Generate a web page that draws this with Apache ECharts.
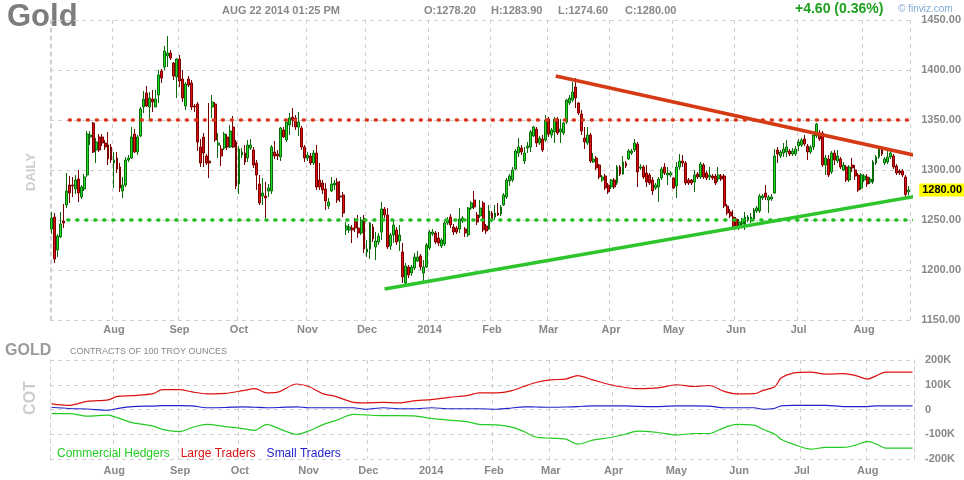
<!DOCTYPE html>
<html>
<head>
<meta charset="utf-8">
<script src="https://cdn.jsdelivr.net/npm/echarts@6/dist/echarts.min.js"></script>
<style>
  html, body { margin: 0; padding: 0; background: #fff; }
  #chart { width: 964px; height: 480px; }
</style>
</head>
<body>
<div id="chart"></div>
<script>
// --- data ---
var firstDay = '2013-07-02';
var lastDay = '2014-08-22';
var holidays = ['2013-07-04', '2013-09-02', '2013-11-28', '2013-12-25', '2014-01-01',
  '2014-01-20', '2014-02-17', '2014-04-18', '2014-05-26', '2014-07-04'];
var monthNames = ['Jan','Feb','Mar','Apr','May','Jun','Jul','Aug','Sep','Oct','Nov','Dec'];

// daily candles: [open, close, low, high]
var ohlc = [
  [1241,1252,1236,1258],[1253,1211,1207,1257],[1220,1234,1213,1236],[1233,1246,1232,1258],[1249,1247,1242,1266],
  [1265,1279,1262,1297],[1285,1277,1267,1294],[1285,1284,1273,1293],[1281,1290,1276,1295],[1291,1277,1268,1300],
  [1273,1283,1271,1285],[1281,1293,1279,1296],[1295,1336,1293,1339],[1333,1335,1325,1339],[1347,1318,1317,1348],
  [1320,1328,1307,1332],[1333,1320,1318,1336],[1333,1327,1324,1336],[1327,1323,1320,1330],[1325,1311,1305,1338],
  [1323,1310,1307,1326],[1307,1310,1282,1318],[1312,1301,1297,1318],[1303,1282,1278,1307],[1279,1285,1272,1293],
  [1285,1310,1283,1313],[1310,1312,1308,1315],[1312,1333,1311,1343],[1336,1318,1317,1341],[1318,1333,1315,1335],
  [1334,1361,1333,1363],[1363,1371,1357,1379],[1377,1364,1363,1384],[1363,1372,1350,1378],[1371,1368,1358,1380],
  [1363,1371,1363,1380],[1375,1395,1367,1400],[1399,1392,1387,1401],[1403,1419,1400,1424],[1414,1417,1403,1434],
  [1417,1412,1410,1420],[1407,1394,1390,1408],[1393,1411,1372,1412],[1411,1389,1383,1415],[1391,1372,1368,1400],
  [1364,1386,1360,1388],[1391,1385,1383,1394],[1387,1363,1360,1390],[1364,1363,1358,1366],[1366,1328,1319,1368],
  [1323,1307,1303,1331],[1333,1317,1303,1337],[1314,1307,1305,1316],[1309,1307,1292,1367],[1363,1368,1352,1375],
  [1366,1330,1328,1368],[1325,1327,1312,1337],[1321,1314,1304,1325],[1322,1336,1320,1338],[1333,1323,1320,1336],
  [1323,1339,1322,1345],[1343,1323,1322,1354],[1328,1284,1281,1330],[1286,1321,1276,1324],[1315,1318,1312,1322],
  [1317,1308,1305,1325],[1312,1325,1308,1330],[1322,1325,1320,1331],[1320,1305,1302,1323],[1307,1295,1280,1310],
  [1286,1267,1265,1295],[1274,1277,1265,1292],[1274,1272,1252,1288],[1279,1282,1273,1286],[1279,1323,1276,1325],
  [1318,1314,1311,1329],[1316,1314,1310,1320],[1313,1342,1309,1343],[1340,1333,1332,1343],[1330,1348,1328,1350],
  [1345,1352,1335,1357],[1353,1350,1343,1362],[1352,1343,1340,1355],[1343,1348,1334,1358],[1342,1323,1320,1344],
  [1323,1312,1308,1325],[1312,1315,1309,1318],[1314,1307,1305,1317],[1307,1317,1305,1320],[1317,1283,1280,1325],
  [1290,1283,1280,1307],[1287,1280,1276,1290],[1281,1269,1260,1287],[1264,1268,1261,1272],[1279,1286,1278,1293],
  [1285,1287,1280,1290],[1288,1270,1267,1292],[1274,1273,1268,1289],[1275,1257,1253,1278],[1240,1244,1235,1248],
  [1240,1243,1237,1246],[1242,1240,1227,1245],[1249,1242,1238,1252],[1242,1237,1232,1255],[1237,1250,1235,1253],
  [1252,1221,1217,1255],[1218,1221,1213,1230],[1221,1247,1211,1248],[1243,1231,1228,1246],[1223,1229,1210,1238],
  [1228,1234,1225,1237],[1238,1261,1230,1268],[1261,1255,1252,1263],[1255,1223,1221,1262],[1224,1235,1220,1237],
  [1235,1245,1227,1250],[1240,1228,1225,1243],[1229,1235,1219,1245],[1218,1193,1187,1227],[1187,1204,1186,1207],
  [1203,1195,1192,1205],[1197,1203,1194,1205],[1202,1213,1200,1217],[1209,1213,1208,1219],[1214,1203,1200,1216],
  [1197,1203,1188,1210],[1203,1225,1202,1227],[1222,1238,1220,1240],[1236,1238,1234,1241],[1237,1228,1226,1239],
  [1232,1227,1224,1238],[1224,1230,1222,1232],[1226,1247,1224,1249],[1247,1250,1245,1253],[1253,1245,1242,1256],
  [1243,1238,1235,1246],[1242,1238,1236,1244],[1241,1251,1237,1262],[1249,1252,1247,1254],[1241,1237,1233,1243],
  [1235,1262,1233,1263],[1262,1267,1260,1269],[1270,1263,1261,1279],[1255,1248,1245,1258],[1254,1262,1252,1270],
  [1267,1240,1238,1269],[1244,1239,1236,1246],[1241,1259,1240,1265],[1257,1250,1248,1259],[1253,1257,1250,1265],
  [1257,1255,1254,1267],[1256,1263,1254,1265],[1265,1275,1264,1277],[1273,1290,1271,1292],[1289,1294,1284,1296],
  [1290,1300,1288,1303],[1301,1319,1300,1321],[1317,1323,1313,1332],[1322,1318,1315,1325],[1309,1317,1306,1323],
  [1322,1324,1317,1328],[1323,1338,1318,1340],[1334,1343,1333,1344],[1341,1327,1323,1343],[1327,1332,1325,1334],
  [1331,1320,1318,1335],[1330,1350,1328,1355],[1351,1336,1333,1353],[1335,1340,1332,1342],[1338,1351,1327,1353],
  [1351,1337,1335,1353],[1338,1341,1327,1351],[1337,1347,1335,1348],[1348,1370,1346,1371],[1367,1372,1365,1375],
  [1370,1378,1368,1388],[1383,1372,1362,1392],[1367,1357,1355,1368],[1356,1339,1335,1360],[1332,1328,1321,1343],
  [1327,1335,1325,1343],[1335,1309,1307,1337],[1308,1311,1307,1317],[1312,1302,1300,1314],[1305,1293,1291,1306],
  [1290,1293,1288,1295],[1294,1282,1280,1296],[1285,1278,1276,1287],[1283,1290,1281,1291],[1290,1283,1281,1292],
  [1287,1303,1285,1305],[1303,1296,1294,1305],[1296,1308,1295,1314],[1307,1304,1302,1309],[1311,1319,1310,1321],
  [1317,1319,1315,1321],[1320,1327,1318,1331],[1326,1298,1283,1328],[1302,1303,1300,1306],[1303,1293,1291,1305],
  [1297,1288,1283,1305],[1295,1287,1285,1297],[1290,1279,1275,1293],[1282,1285,1280,1287],[1283,1291,1268,1293],
  [1292,1301,1290,1303],[1303,1297,1295,1307],[1295,1297,1285,1303],[1295,1297,1293,1299],[1292,1282,1281,1293],
  [1284,1303,1272,1308],[1303,1309,1300,1316],[1309,1307,1303,1315],[1307,1287,1285,1309],[1290,1287,1285,1292],
  [1290,1287,1285,1291],[1288,1295,1278,1300],[1296,1293,1291,1298],[1293,1306,1291,1308],[1305,1293,1291,1307],
  [1297,1292,1290,1299],[1293,1295,1290,1303],[1294,1292,1290,1296],[1294,1287,1285,1296],[1291,1295,1288,1303],
  [1294,1291,1289,1296],[1294,1264,1262,1296],[1264,1257,1255,1266],[1258,1254,1252,1261],[1253,1244,1243,1260],
  [1251,1244,1242,1253],[1245,1248,1240,1251],[1246,1250,1243,1252],[1246,1253,1240,1258],[1250,1253,1248,1255],
  [1249,1253,1247,1257],[1251,1260,1249,1262],[1259,1262,1257,1264],[1259,1274,1257,1276],[1272,1274,1270,1276],
  [1277,1273,1270,1285],[1270,1273,1257,1275],[1271,1273,1269,1276],[1277,1314,1276,1321],[1320,1316,1307,1323],
  [1314,1318,1312,1320],[1317,1321,1313,1327],[1318,1323,1313,1330],[1319,1316,1314,1321],[1316,1319,1314,1322],
  [1316,1321,1314,1324],[1324,1328,1319,1331],[1325,1330,1323,1332],[1331,1326,1324,1335],[1324,1318,1310,1326],
  [1318,1323,1316,1325],[1323,1335,1320,1337],[1334,1346,1332,1347],[1337,1331,1329,1340],[1337,1305,1303,1339],
  [1305,1312,1295,1315],[1311,1295,1293,1315],[1298,1317,1296,1319],[1317,1310,1305,1320],[1309,1314,1307,1320],
  [1311,1303,1301,1313],[1300,1305,1299,1308],[1303,1290,1288,1305],[1290,1303,1288,1305],[1305,1302,1298,1312],
  [1300,1294,1290,1305],[1295,1280,1278,1297],[1282,1295,1280,1297],
  [1290,1294,1288,1296],[1293,1286,1283,1296],[1288,1291,1286,1293],[1288,1308,1286,1310],[1307,1313,1305,1315],
  [1313,1321,1311,1323],[1320,1316,1314,1322],[1307,1311,1305,1313],[1308,1313,1306,1320],[1313,1317,1311,1320],
  [1314,1303,1301,1316],[1304,1297,1295,1306],[1299,1297,1295,1301],[1299,1295,1293,1301],[1293,1275.4,1273,1295],
  [1278.2,1280,1274.6,1283.9]
];

// support / resistance and trend lines: [day index, price]
var resistanceLine = [[6, 1350], [290.5, 1350]];
var supportLine = [[5.5, 1250], [290.5, 1250]];
var redTrend = [[169.4, 1394], [298.8, 1309]];
var greenTrend = [[111.9, 1181], [292.8, 1275]];

// COT (thousands of contracts), sampled at day index
var cotIdx =            [0, 6, 12, 19, 22, 27, 34, 37, 43, 47, 52, 58, 64, 68, 72, 76, 82, 86, 91, 95, 101, 105, 111, 116, 122, 127, 133, 139, 143, 149, 154, 158, 162, 167, 172, 176, 181, 187, 192, 196, 203, 209, 215, 220, 225, 229, 235, 238, 242, 244, 248, 254, 259, 265, 269, 273, 276, 279, 288];
var largeTraders =      [23, 17, 33, 39, 53, 56, 64, 80, 80, 71, 63, 65, 76, 84, 67, 71, 103, 93, 63, 53, 29, 27, 29, 27, 36, 40, 49, 56, 67, 67, 76, 93, 109, 120, 123, 137, 120, 100, 89, 84, 87, 100, 93, 97, 73, 63, 64, 77, 93, 127, 147, 151, 143, 145, 137, 123, 137, 151, 151];
var smallTraders =      [9, 4, 2, -3, 4, 12, 14, 16, 16, 15, 7, 8, 11, 9, 7, 8, 11, 7, 7, 7, 7, 1, 7, 3, 3, 7, 3, 3, 3, 1, 6, 11, 10, 9, 10, 12, 15, 15, 15, 13, 12, 15, 15, 14, 7, 7, 7, 1, 5, 15, 17, 17, 17, 12, 12, 12, 15, 15, 15];
var commercialHedgers = [-17, -17, -27, -23, -33, -53, -67, -80, -89, -73, -60, -69, -77, -84, -60, -77, -100, -87, -60, -45, -20, -22, -25, -25, -27, -36, -43, -49, -60, -62, -71, -89, -111, -116, -120, -140, -124, -113, -100, -87, -93, -103, -97, -97, -73, -60, -63, -80, -100, -120, -140, -160, -153, -153, -144, -129, -140, -156, -156];

// --- helpers ---
function tradingDays(from, to, skip) {
  var out = [];
  var d = new Date(from + 'T00:00:00Z');
  var end = new Date(to + 'T00:00:00Z');
  while (d <= end) {
    var wd = d.getUTCDay();
    var key = d.toISOString().slice(0, 10);
    if (wd !== 0 && wd !== 6 && skip.indexOf(key) < 0) out.push(key);
    d.setUTCDate(d.getUTCDate() + 1);
  }
  return out;
}

var dates = tradingDays(firstDay, lastDay, holidays).slice(0, ohlc.length);
var isMonthStart = dates.map(function(d, i) {
  return i > 0 && d.slice(0, 7) !== dates[i - 1].slice(0, 7);
});
function monthLabel(v) {
  var m = +v.slice(5, 7);
  return m === 1 ? v.slice(0, 4) : monthNames[m - 1];
}
function pair(idx, vals, k) {
  return idx.map(function(x, i) { return [x, vals[i] * k]; });
}

var last = ohlc[ohlc.length - 1];
var prevClose = ohlc[ohlc.length - 2][1];
var change = last[1] - prevClose;

var font = '"Liberation Sans", Arial, sans-serif';
var grey = '#888';
var rule = '#cfcfcf';
var dash = { color: rule, type: [4, 4], width: 1 };

var monthAxis = {
  type: 'category',
  data: dates,
  boundaryGap: true,
  axisLine: { show: false },
  axisTick: { show: false },
  axisLabel: {
    interval: function(i) { return isMonthStart[i]; },
    formatter: monthLabel,
    color: grey, fontWeight: 'bold', fontSize: 11, fontFamily: font
  },
  splitLine: { show: true, interval: function(i) { return isMonthStart[i]; }, lineStyle: dash }
};

var chart = echarts.init(document.getElementById('chart'), null, { renderer: 'canvas' });
chart.setOption({
  animation: false,
  textStyle: { fontFamily: font },
  grid: [
    { left: 50, right: 50, top: 20, height: 300 },
    { left: 50, right: 50, top: 360, height: 99 }
  ],
  xAxis: [
    Object.assign({}, monthAxis, { gridIndex: 0, axisLabel: Object.assign({}, monthAxis.axisLabel, { margin: 4 }) }),
    { type: 'value', gridIndex: 0, show: false, min: -0.5, max: ohlc.length - 0.5 },
    Object.assign({}, monthAxis, { gridIndex: 1, axisLabel: Object.assign({}, monthAxis.axisLabel, { margin: 6 }) })
  ],
  yAxis: [
    {
      type: 'value', gridIndex: 0, position: 'right', min: 1150, max: 1450, interval: 50,
      axisLine: { show: true, lineStyle: dash }, axisTick: { show: false },
      axisLabel: { color: grey, fontWeight: 'bold', fontSize: 11, margin: 11, formatter: function(v) { return v.toFixed(2); } },
      splitLine: { lineStyle: dash }
    },
    {
      type: 'value', gridIndex: 0, position: 'left', min: 1150, max: 1450,
      axisLine: { show: true, lineStyle: dash }, axisTick: { show: false },
      axisLabel: { show: false }, splitLine: { show: false }
    },
    {
      type: 'value', gridIndex: 1, position: 'right', min: -200000, max: 200000, interval: 100000,
      axisLine: { show: true, lineStyle: dash }, axisTick: { show: false },
      axisLabel: { color: grey, fontWeight: 'bold', fontSize: 11, margin: 11,
        formatter: function(v) { return v === 0 ? '0' : (v / 1000) + 'K'; } },
      splitLine: { lineStyle: dash }
    },
    {
      type: 'value', gridIndex: 1, position: 'left', min: -200000, max: 200000,
      axisLine: { show: true, lineStyle: dash }, axisTick: { show: false },
      axisLabel: { show: false }, splitLine: { show: false }
    }
  ],
  legend: {
    left: 47, top: 442, icon: 'none', itemWidth: 0, itemGap: 6, selectedMode: false,
    textStyle: { fontSize: 12, fontFamily: font },
    data: [
      { name: 'Commercial Hedgers', textStyle: { color: '#22cc22' } },
      { name: 'Large Traders', textStyle: { color: '#dd1111' } },
      { name: 'Small Traders', textStyle: { color: '#2222cc' } }
    ]
  },
  series: [
    {
      type: 'candlestick', xAxisIndex: 0, yAxisIndex: 0, data: ohlc, barWidth: 2.4,
      itemStyle: { color: '#22dd22', borderColor: '#0b6b0b', color0: '#e01010', borderColor0: '#7a0000', borderWidth: 1 },
      markLine: {
        silent: true, symbol: 'none',
        lineStyle: { width: 0, color: 'rgba(0,0,0,0)' },
        label: {
          show: true, position: 'end', distance: 9, formatter: function(p) { return p.value.toFixed(2); },
          backgroundColor: '#ffff00', color: '#000', fontWeight: 'bold', fontSize: 11,
          padding: [1, 3], lineHeight: 11
        },
        data: [{ yAxis: last[1] }]
      }
    },
    {
      type: 'line', xAxisIndex: 1, yAxisIndex: 0, data: resistanceLine, clip: false, symbol: 'none', silent: true,
      lineStyle: { color: '#d93a1b', width: 3.5, type: [1, 8], cap: 'round' }
    },
    {
      type: 'line', xAxisIndex: 1, yAxisIndex: 0, data: supportLine, clip: false, symbol: 'none', silent: true,
      lineStyle: { color: '#1fbf1f', width: 3.5, type: [1, 8], cap: 'round' }
    },
    {
      type: 'line', xAxisIndex: 1, yAxisIndex: 0, data: redTrend, clip: false, symbol: 'none', silent: true,
      lineStyle: { color: '#d63a15', width: 3.5 }
    },
    {
      type: 'line', xAxisIndex: 1, yAxisIndex: 0, data: greenTrend, clip: false, symbol: 'none', silent: true,
      lineStyle: { color: '#2cc52c', width: 3.5 }
    },
    {
      name: 'Large Traders', type: 'line', xAxisIndex: 2, yAxisIndex: 2, smooth: 0.3, symbol: 'none',
      data: pair(cotIdx, largeTraders, 1000), lineStyle: { color: '#dd1111', width: 1.2 }, itemStyle: { color: '#dd1111' }
    },
    {
      name: 'Small Traders', type: 'line', xAxisIndex: 2, yAxisIndex: 2, smooth: 0.3, symbol: 'none',
      data: pair(cotIdx, smallTraders, 1000), lineStyle: { color: '#2222cc', width: 1.2 }, itemStyle: { color: '#2222cc' }
    },
    {
      name: 'Commercial Hedgers', type: 'line', xAxisIndex: 2, yAxisIndex: 2, smooth: 0.3, symbol: 'none',
      data: pair(cotIdx, commercialHedgers, 1000), lineStyle: { color: '#22cc22', width: 1.2 }, itemStyle: { color: '#22cc22' }
    }
  ],
  graphic: [
    { type: 'text', left: 7, top: 2, style: { text: 'Gold', font: 'bold 31px ' + font, fill: '#7d7d7d',
      textShadowColor: 'rgba(70,100,170,0.35)', textShadowOffsetX: 1, textShadowOffsetY: 1 } },
    { type: 'text', left: 222, top: 5, style: { text: 'AUG 22 2014 01:25 PM', font: 'bold 11px ' + font, fill: grey } },
    { type: 'text', left: 424, top: 5, style: { text: 'O:' + last[0].toFixed(2), font: 'bold 11px ' + font, fill: grey } },
    { type: 'text', left: 491, top: 5, style: { text: 'H:' + last[3].toFixed(2), font: 'bold 11px ' + font, fill: grey } },
    { type: 'text', left: 558, top: 5, style: { text: 'L:' + last[2].toFixed(2), font: 'bold 11px ' + font, fill: grey } },
    { type: 'text', left: 625, top: 5, style: { text: 'C:' + last[1].toFixed(2), font: 'bold 11px ' + font, fill: grey } },
    { type: 'text', left: 795, top: 2, style: {
      text: '+' + change.toFixed(2) + ' (' + (change / prevClose * 100).toFixed(2) + '%)',
      font: 'bold 14px ' + font, fill: '#1ea01e' } },
    { type: 'text', left: 898, top: 4, style: { text: '\u00a9 finviz.com', font: '10px ' + font, fill: '#7fa9d6' } },
    { type: 'text', x: 31, y: 172, rotation: Math.PI / 2, style: { text: 'DAILY', font: 'bold 13px ' + font, fill: '#cccccc', align: 'center', verticalAlign: 'middle' } },
    { type: 'text', left: 5, top: 343, style: { text: 'GOLD', font: 'bold 16px ' + font, fill: '#9a9a9a' } },
    { type: 'text', left: 70, top: 347, style: { text: 'CONTRACTS OF 100 TROY OUNCES', font: '9px ' + font, fill: grey } },
    { type: 'text', x: 31, y: 398, rotation: Math.PI / 2, style: { text: 'COT', font: 'bold 16px ' + font, fill: '#cccccc', align: 'center', verticalAlign: 'middle' } }
  ]
});
window.addEventListener('resize', function() { chart.resize(); });
</script>
</body>
</html>
